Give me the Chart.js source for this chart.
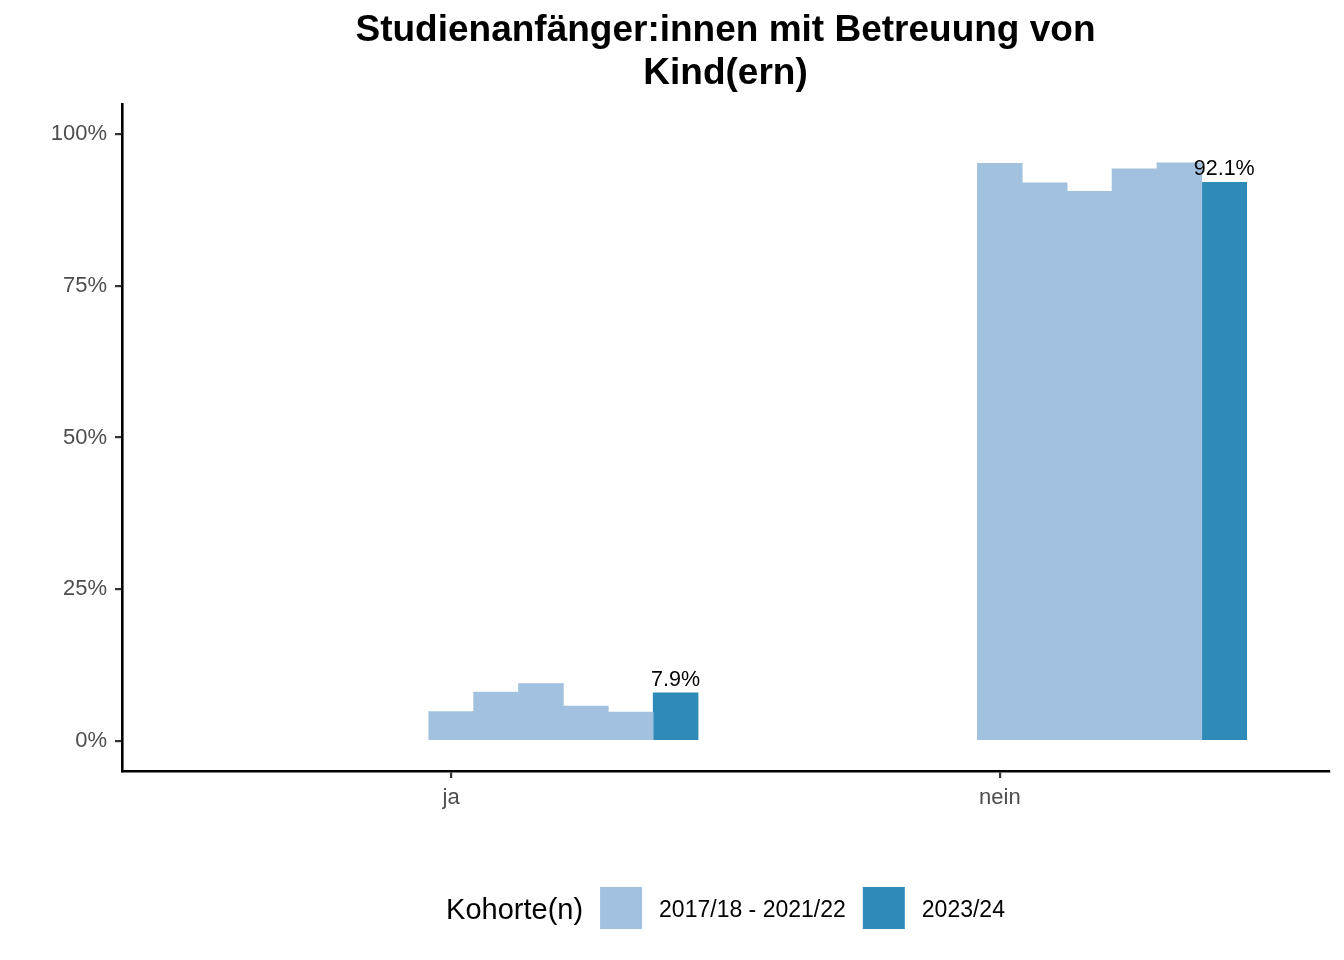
<!DOCTYPE html>
<html lang="de">
<head>
<meta charset="utf-8">
<title>Studienanfänger:innen mit Betreuung von Kind(ern)</title>
<script src="https://cdn.jsdelivr.net/npm/chart.js@4.4.1/dist/chart.umd.min.js"></script>
<style>
  html, body { margin: 0; padding: 0; background: #fff; }
  #wrap { width: 1344px; height: 960px; }
</style>
</head>
<body>
<div id="wrap"><canvas id="chart" width="1344" height="960"></canvas></div>
<script>
/* ── Kinderbetreuung chart — ggplot-style dodged bars ─────────────────── */

// ── Data ──────────────────────────────────────────────────────────────────────
const categories    = ["ja", "nein"];
const pastCohorts   = ["2017/18", "2018/19", "2019/20", "2020/21", "2021/22"];
const pastJa        = [4.8, 8.0, 9.4, 5.7, 4.7];
const pastNein      = [95.2, 92.0, 90.6, 94.3, 95.3];
const currentValues = [7.9, 92.1];          // 2023/24: ja, nein
const legendLabels  = ["2017/18 - 2021/22", "2023/24"];
const yTicks        = [0, 25, 50, 75, 100];
const titleLines    = ["Studienanfänger:innen mit Betreuung von", "Kind(ern)"];
const legendTitle   = "Kohorte(n)";

// ── Look ──────────────────────────────────────────────────────────────────────
const FONT  = '"Liberation Sans", Arial, Helvetica, sans-serif';
const LIGHT = "#a1c1de";
const DARK  = "#2e8bb8";
const SLOT  = 0.9 / 11;                     // width of one bar in category units

// first bar sits on the category tick, the rest run to the right
const pastPoints = [];
[pastJa, pastNein].forEach((vals, c) => {
    vals.forEach((v, i) => pastPoints.push({ x: c + 1 + i * SLOT, y: v }));
});
const currentPoints = currentValues.map((v, c) => ({ x: c + 1 + pastCohorts.length * SLOT, y: v }));

// ── Title, legend and value labels ───────────────────────────────────────────
const decorations = {
    id: "decorations",
    afterDatasetsDraw(chart) {
        const ctx = chart.ctx;
        ctx.save();
        ctx.fillStyle    = "#000";
        ctx.font         = `21.5px ${FONT}`;
        ctx.textAlign    = "center";
        ctx.textBaseline = "alphabetic";
        chart.getDatasetMeta(1).data.forEach((bar, i) => {
            ctx.fillText(currentValues[i].toFixed(1) + "%", bar.x, bar.y - 7);
        });
        ctx.restore();
    },
    afterDraw(chart) {
        const ctx = chart.ctx;
        const { left, right } = chart.chartArea;
        const cx = (left + right) / 2;
        ctx.save();

        // title
        ctx.fillStyle    = "#000";
        ctx.textAlign    = "center";
        ctx.textBaseline = "alphabetic";
        ctx.font         = `bold 37px ${FONT}`;
        titleLines.forEach((line, i) => ctx.fillText(line, cx, 41 + i * 43));

        // legend: title, key, label, key, label — centred under the panel
        const gap = 17, key = 42, keyTop = 887;
        ctx.font = `29px ${FONT}`;
        const titleW = ctx.measureText(legendTitle).width;
        ctx.font = `23px ${FONT}`;
        const labelW = legendLabels.map(t => ctx.measureText(t).width);
        const total  = titleW + labelW.reduce((a, b) => a + b, 0) + 2 * key + 4 * gap;
        let x = cx - total / 2;

        ctx.textAlign = "left";
        ctx.font = `29px ${FONT}`;
        ctx.fillText(legendTitle, x, 919);
        x += titleW + gap;

        ctx.font = `23px ${FONT}`;
        [LIGHT, DARK].forEach((col, i) => {
            ctx.fillStyle = col;
            ctx.fillRect(x, keyTop, key, key);
            x += key + gap;
            ctx.fillStyle = "#000";
            ctx.fillText(legendLabels[i], x, 917);
            x += labelW[i] + gap;
        });
        ctx.restore();
    },
};

// ── Chart ─────────────────────────────────────────────────────────────────────
const barOpts = { grouped: false, barPercentage: 1, categoryPercentage: 1, borderWidth: 0 };

new Chart(document.getElementById("chart"), {
    type: "bar",
    data: {
        datasets: [
            { label: legendLabels[0], data: pastPoints,    backgroundColor: LIGHT, ...barOpts },
            { label: legendLabels[1], data: currentPoints, backgroundColor: DARK,  ...barOpts },
        ],
    },
    options: {
        responsive: false,
        animation: false,
        layout: { padding: { top: 104, right: 15, bottom: 129, left: 0 } },
        plugins: { legend: { display: false }, title: { display: false }, tooltip: { enabled: false } },
        scales: {
            x: {
                type: "linear",
                min: 0.4,
                max: 2.6,
                offset: false,
                afterBuildTicks: s => { s.ticks = categories.map((_, i) => ({ value: i + 1 })); },
                afterFit: s => { s.height = 60; },
                ticks: {
                    callback: v => categories[Math.round(v) - 1],
                    color: "#4d4d4d",
                    font: { family: FONT, size: 22 },
                    padding: 7,
                    autoSkip: false,
                    maxRotation: 0,
                },
                grid:   { drawOnChartArea: false, offset: false, tickLength: 7, color: "#333333", lineWidth: 2.2 },
                border: { color: "#000", width: 2.6 },
            },
            y: {
                min: -5,
                max: 105,
                afterBuildTicks: s => { s.ticks = yTicks.map(v => ({ value: v })); },
                afterFit: s => { s.width = 122; },
                ticks: {
                    callback: v => v + "%",
                    color: "#4d4d4d",
                    font: { family: FONT, size: 22 },
                    padding: 8,
                },
                grid:   { drawOnChartArea: false, tickLength: 7, color: "#333333", lineWidth: 2.2 },
                border: { color: "#000", width: 2.6 },
            },
        },
    },
    plugins: [decorations],
});
</script>
</body>
</html>
